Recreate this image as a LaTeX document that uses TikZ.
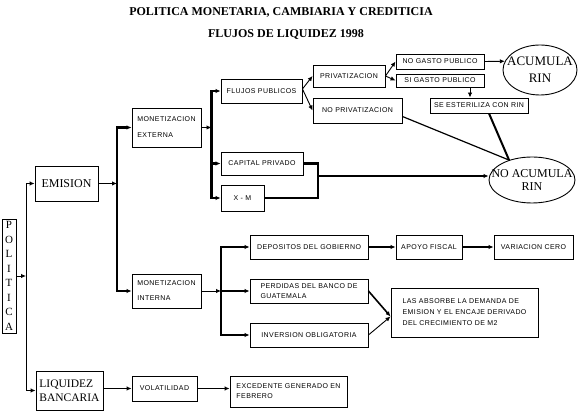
\documentclass[tikz,border=0pt]{standalone}
\usepackage{fontspec}
\setmainfont{Liberation Serif}
\newfontfamily\pixf[LetterSpace=6]{Liberation Sans}
\usetikzlibrary{arrows.meta,calc,shapes.geometric}
\begin{document}
\begin{tikzpicture}[x=1pt,y=-1pt,
  box/.style={draw, line width=0.9pt, inner sep=0pt, font=\pixf\fontsize{7}{9}\selectfont, align=center},
  sbox/.style={draw, line width=0.9pt, inner sep=0pt, font=\fontsize{12}{14}\selectfont, align=center},
  oval/.style={draw, ellipse, line width=0.9pt, inner sep=0pt, align=center},
  arr/.style={line width=0.9pt, -{Latex[length=5pt,width=4.5pt]}},
  tarr/.style={line width=2.4pt, -{Latex[length=5pt,width=4.5pt]}},
  tline/.style={line width=2.4pt, line cap=rect},
  ttl/.style={font=\bfseries\fontsize{12}{14}\selectfont, inner sep=0pt}
]
\useasboundingbox (0,0) rectangle (582,411);

% titles
\node[ttl] (title1) at (281,12) {POLITICA MONETARIA, CAMBIARIA Y CREDITICIA};
\node[ttl] (title2) at (286,34) {FLUJOS DE LIQUIDEZ 1998};

% boxes
\node[sbox, minimum width=14pt, minimum height=114pt, font=\fontsize{11}{14.5}\selectfont] (pol) at (9,276) {P\\O\\L\\I\\T\\I\\C\\A};
\node[sbox, minimum width=63pt, minimum height=35pt] (em) at (66.5,183.5) {EMISION};
\node[sbox, minimum width=67pt, minimum height=39pt, align=left, font=\fontsize{11.5}{14}\selectfont] (liq) at (69.5,390.5) {LIQUIDEZ\\BANCARIA};
\node[box, minimum width=69pt, minimum height=39pt, align=left, font=\pixf\fontsize{7}{16}\selectfont] (me) at (166.5,127.5) {MONETIZACION\\EXTERNA};
\node[box, minimum width=69pt, minimum height=34pt, align=left, font=\pixf\fontsize{7}{15}\selectfont] (mi) at (166.5,291) {MONETIZACION\\INTERNA};
\node[box, minimum width=81pt, minimum height=24pt] (fp) at (261.5,91) {FLUJOS PUBLICOS};
\node[box, minimum width=82pt, minimum height=23pt] (cp) at (262,163.5) {CAPITAL PRIVADO};
\node[box, minimum width=43pt, minimum height=26pt] (xm) at (242.5,198) {X - M};
\node[box, minimum width=72pt, minimum height=22pt] (pr) at (349,76) {PRIVATIZACION};
\node[box, minimum width=89pt, minimum height=25pt] (np) at (357.5,110.5) {NO PRIVATIZACION};
\node[box, minimum width=88pt, minimum height=15pt] (ng) at (440,61.5) {NO GASTO PUBLICO};
\node[box, minimum width=88pt, minimum height=13pt] (sg) at (440,80.5) {SI GASTO PUBLICO};
\node[box, minimum width=98pt, minimum height=15pt] (se) at (479,105.5) {SE ESTERILIZA CON RIN};
\node[oval, minimum width=74pt, minimum height=50pt, font=\fontsize{13}{17}\selectfont] (acum) at (540,70) {\makebox[0pt]{ACUMULA}\\\makebox[0pt]{RIN}};
\node[oval, minimum width=86pt, minimum height=46pt, font=\fontsize{12}{13}\selectfont] (nacum) at (532,180) {\makebox[0pt]{NO ACUMULA}\\\makebox[0pt]{RIN}};
\node[box, minimum width=118pt, minimum height=24pt] (dep) at (309,247) {DEPOSITOS DEL GOBIERNO};
\node[box, minimum width=66pt, minimum height=24pt] (apo) at (429,247) {APOYO FISCAL};
\node[box, minimum width=79pt, minimum height=24pt] (var) at (533.5,247) {VARIACION CERO};
\node[box, minimum width=118pt, minimum height=24pt, align=left, font=\pixf\fontsize{7}{10}\selectfont] (per) at (309,291) {PERDIDAS DEL BANCO DE\\GUATEMALA};
\node[box, minimum width=118pt, minimum height=24pt] (inv) at (309,335) {INVERSION OBLIGATORIA};
\node[box, minimum width=147pt, minimum height=49pt, align=left, font=\pixf\fontsize{7}{11}\selectfont] (las) at (464.5,312.5) {LAS ABSORBE LA DEMANDA DE\\EMISION Y EL ENCAJE DERIVADO\\DEL CRECIMIENTO DE M2};
\node[box, minimum width=65pt, minimum height=25pt] (vol) at (164.5,388.5) {VOLATILIDAD};
\node[box, minimum width=117pt, minimum height=31pt, align=left, font=\pixf\fontsize{7}{10}\selectfont] (exc) at (288.5,391.5) {EXCEDENTE GENERADO EN\\FEBRERO};

% trunk 1
\coordinate (t1a) at (26,183.5);
\coordinate (t1b) at (26,390.5);
\draw[line width=0.9pt, line cap=rect] (t1a) -- (t1b);
\draw[arr] (pol.east) -- (pol.east -| t1a);
\draw[arr] (t1a) -- (em.west);
\draw[arr] (t1b) -- (liq.west);

% trunk 2
\coordinate (t2a) at (117,127.5);
\coordinate (t2b) at (117,291);
\draw[tline] (t2a) -- (t2b);
\draw[arr] (em.east) -- (em.east -| t2a);
\draw[tarr] (t2a) -- (me.west);
\draw[tarr] (t2b) -- (mi.west);

% trunk 3
\coordinate (t3a) at (211.5,91);
\coordinate (t3b) at (211.5,198);
\draw[tline] (t3a) -- (t3b);
\draw[arr] (me.east) -- (me.east -| t3a);
\draw[tarr] (t3a) -- (fp.west);
\draw[tarr] (cp.west -| t3a) -- (cp.west);
\draw[tarr] (t3b) -- (xm.west);

% trunk 4
\coordinate (t4a) at (221,247);
\coordinate (t4b) at (221,335);
\draw[tline] (t4a) -- (t4b);
\draw[arr] (mi.east) -- (mi.east -| t4a);
\draw[tarr] (t4a) -- (dep.west);
\draw[tarr] (per.west -| t4a) -- (per.west);
\draw[tarr] (t4b) -- (inv.west);

% upper right
\draw[arr] ($(fp.east)+(0,-2)$) -- (pr.west);
\draw[arr] ($(fp.east)+(0,-2)$) -- (np.west);
\draw[arr] (pr.east) -- (ng.west);
\draw[arr] (pr.east) -- (sg.west);
\draw[arr] (ng.east) -- (acum.166);
\draw[arr] ($(sg.south)+(30,0)$) -- ($(se.north)+(-9,0)$);
\draw[line width=1.2pt] ($(np.east)+(0,6)$) -- (nacum.139);
\draw[line width=2pt] ($(se.south)+(10,0)$) -- (nacum.139);
\coordinate (j2) at (318,176);
\draw[tline, line cap=butt] (cp.east) -| (j2) |- (xm.east);
\draw[tarr] (j2) -- (j2 -| nacum.west);

% lower right
\draw[tarr] (dep) -- (apo);
\draw[tarr] (apo) -- (var);
\draw[line width=1.6pt, -{Latex[length=5pt,width=4.5pt]}] (per.east) -- ($(las.west)+(0,4)$);
\draw[arr] (inv.east) -- ($(las.west)+(0,4)$);

% bottom
\draw[arr] (vol.west -| liq.east) -- (vol.west);
\draw[arr] (vol.east) -- (vol.east -| exc.west);
\end{tikzpicture}
\end{document}
